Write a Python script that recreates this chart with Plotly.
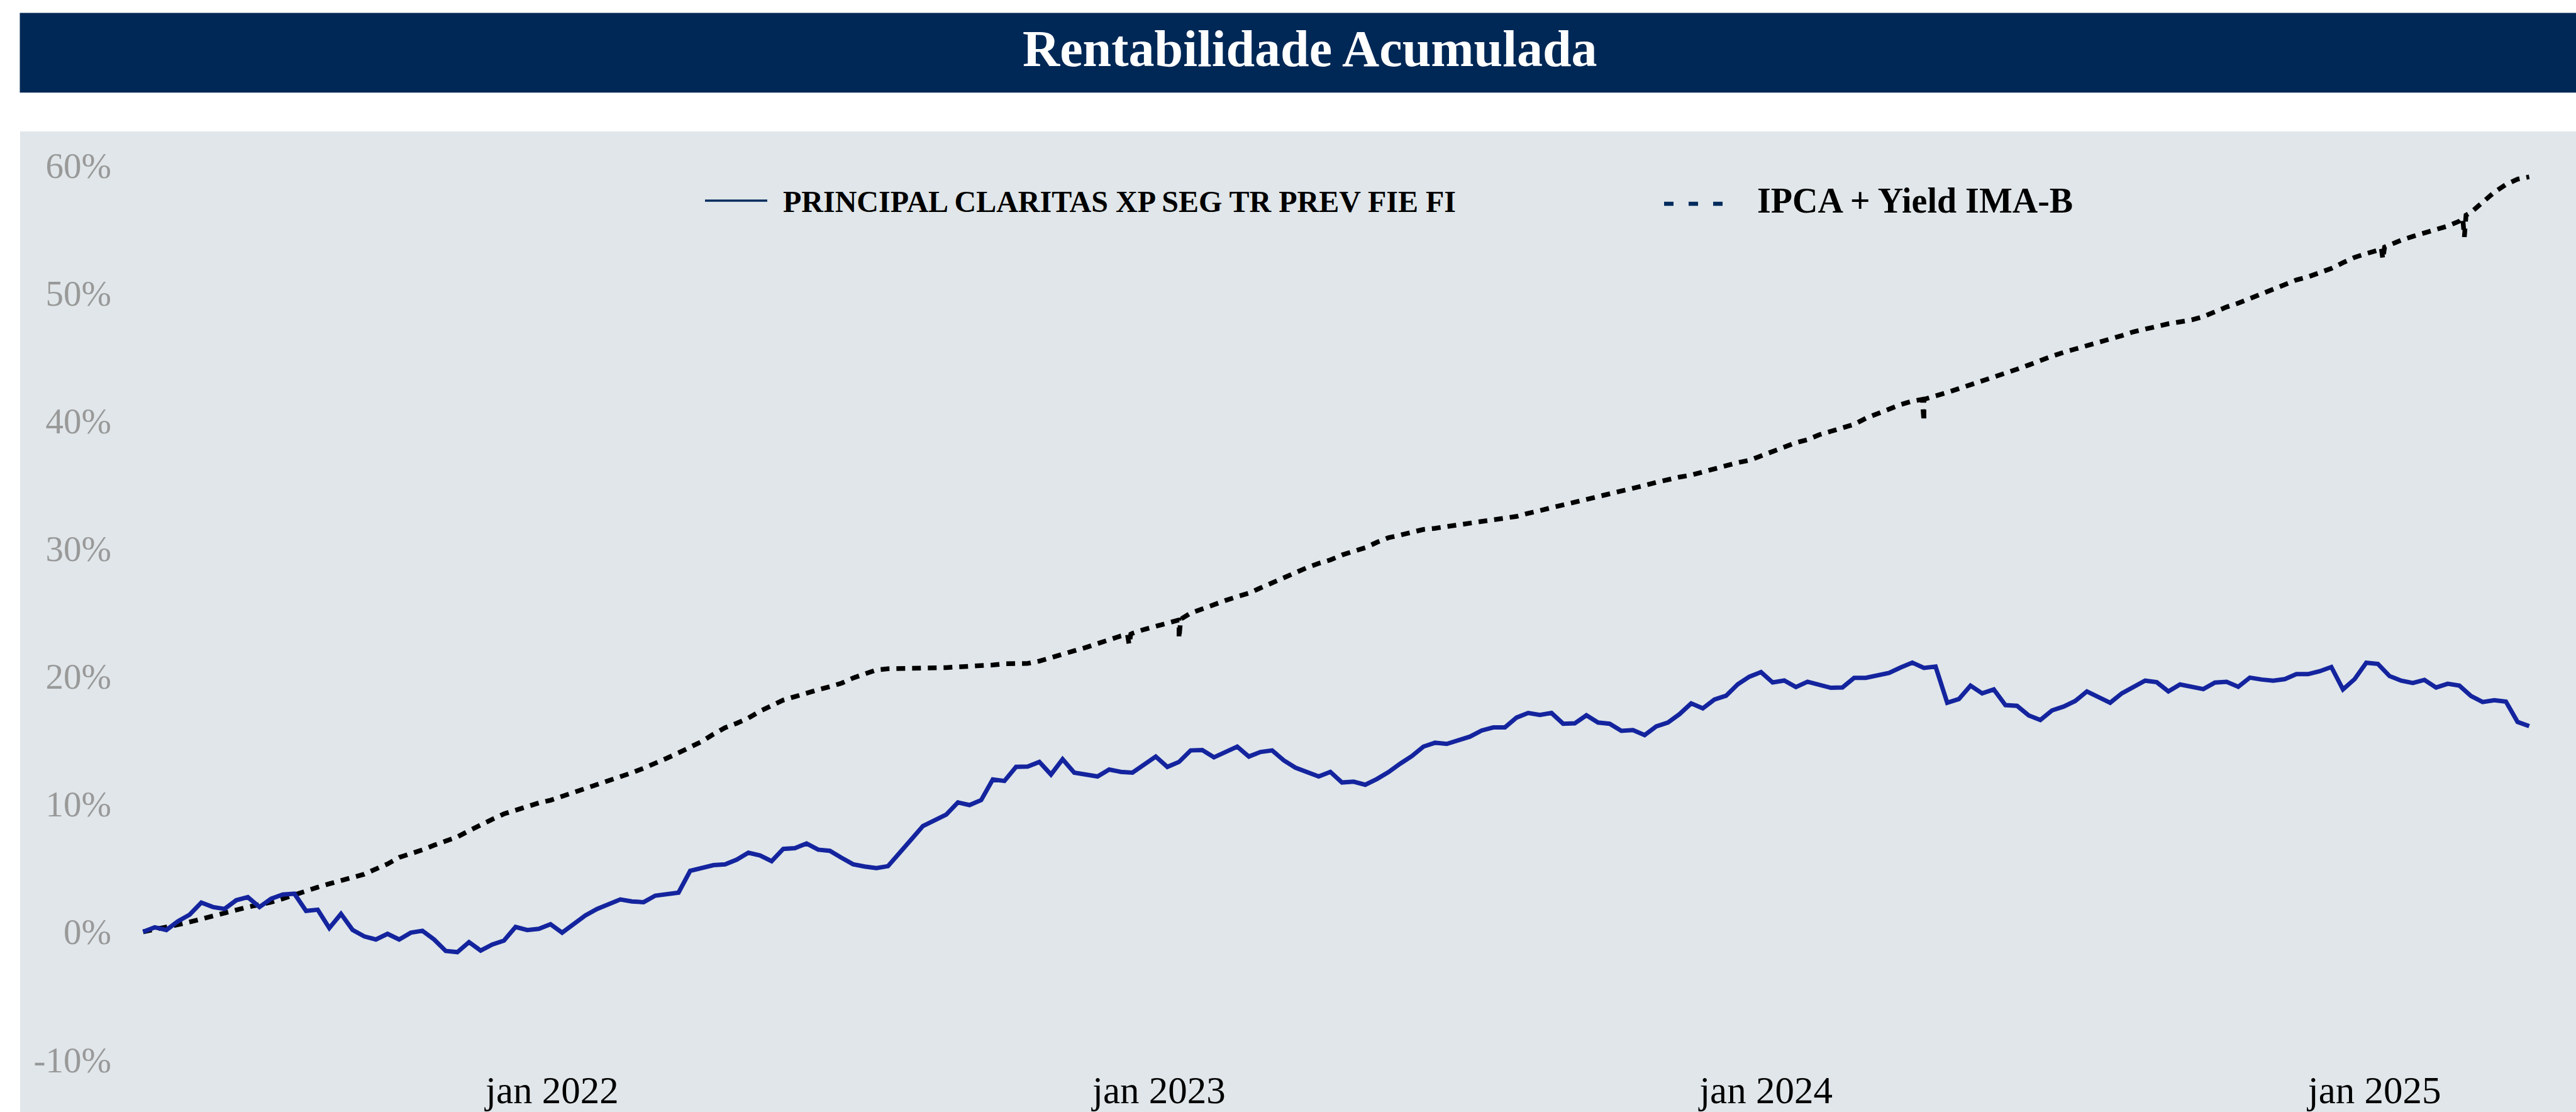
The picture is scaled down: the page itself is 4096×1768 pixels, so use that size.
import pandas as pd
import plotly.graph_objects as go

# ---------------- data (values in %) ----------------
start_date = "2021-04-30"   # weekly samples

fund_name = "PRINCIPAL CLARITAS XP SEG TR PREV FIE FI"
bench_name = "IPCA + Yield IMA-B"

fund_values = [
    0.0, 0.35, 0.14, 0.83, 1.34, 2.29, 1.94, 1.79, 2.47, 2.71,
    1.94, 2.59, 2.92, 2.98, 1.64, 1.73, 0.29, 1.40, 0.14, -0.36,
    -0.60, -0.16, -0.60, -0.07, 0.08, -0.60, -1.50, -1.59, -0.81, -1.47,
    -0.99, -0.69, 0.38, 0.14, 0.23, 0.59, -0.07, 0.59, 1.28, 1.79,
    2.20, 2.53, 2.38, 2.32, 2.83, 2.98, 3.07, 4.77, 4.98, 5.22,
    5.28,
    5.65, 6.19, 5.98, 5.53, 6.49, 6.55, 6.91, 6.43, 6.34, 5.80,
    5.29, 5.11, 4.99, 5.14, 6.13, 7.23, 8.28, 8.70, 9.18, 10.13,
    9.92, 10.31, 11.93, 11.81, 12.91, 12.94, 13.30, 12.31, 13.51, 12.46,
    12.31, 12.16, 12.70, 12.52, 12.46, 13.12, 13.72, 12.91, 13.30, 14.20,
    14.23, 13.66, 14.08, 14.50, 13.72, 14.08, 14.20, 13.42, 12.85, 12.55,
    12.16, 12.52,
    11.69, 11.75, 11.51, 11.96, 12.50, 13.16, 13.75, 14.50, 14.80, 14.71,
    15.04, 15.28, 15.76, 16.00, 16.00, 16.77, 17.13, 16.98, 17.13, 16.29,
    16.32, 16.95, 16.38, 16.29, 15.73, 15.79, 15.40, 16.08, 16.38, 17.04,
    17.88, 17.49, 18.18, 18.48, 19.37, 19.97, 20.33, 19.52, 19.67, 19.16,
    19.58, 19.37, 19.10, 19.13, 19.88, 19.88, 20.06, 20.27, 20.69, 21.07,
    20.66,
    20.76, 17.93, 18.22, 19.27, 18.67, 18.97, 17.75, 17.69, 16.94, 16.58,
    17.33, 17.63, 18.07, 18.82, 18.37, 17.93, 18.67, 19.18, 19.66, 19.54,
    18.82, 19.36, 19.18, 19.00, 19.51, 19.57, 19.18, 19.90, 19.75, 19.66,
    19.78, 20.17, 20.17, 20.40, 20.73, 18.97, 19.78, 21.06, 20.97, 20.02,
    19.66, 19.48, 19.72, 19.12, 19.42, 19.27, 18.46, 17.99, 18.13, 18.02,
    16.43, 16.10,
]

bench_values = [
    0.0, 0.17, 0.32, 0.56, 0.77, 0.98, 1.25, 1.49, 1.70, 1.94,
    2.11, 2.32, 2.59, 2.92, 3.19, 3.49, 3.76, 4.03, 4.24, 4.51,
    4.92, 5.31, 5.82, 6.09, 6.42, 6.78, 7.13, 7.43, 7.91, 8.39,
    8.81, 9.23, 9.53, 9.76, 10.09, 10.30, 10.60, 10.87, 11.20, 11.53,
    11.80, 12.07, 12.45, 12.81, 13.17, 13.59, 14.01, 14.43, 14.90, 15.47,
    15.98,
    16.32, 16.73, 17.27, 17.75, 18.14, 18.41, 18.71, 18.95, 19.19, 19.46,
    19.87, 20.17, 20.50, 20.59, 20.59, 20.59, 20.59, 20.62, 20.68, 20.74,
    20.77, 20.83, 20.89, 20.98, 20.95, 21.01, 21.19, 21.49, 21.73, 22.00,
    22.26, 22.59, 22.92, 23.16, 23.37, 23.67, 23.94, 24.21, 24.41, 24.95,
    25.31, 25.61, 25.94, 26.24, 26.51, 26.92, 27.34, 27.76, 28.15, 28.51,
    28.84, 29.11,
    29.50, 29.77, 30.07, 30.49, 30.85, 31.05, 31.26, 31.50, 31.59, 31.71,
    31.86, 31.98, 32.10, 32.25, 32.40, 32.52, 32.76, 32.97, 33.21, 33.42,
    33.62, 33.86, 34.10, 34.31, 34.52, 34.73, 34.94, 35.18, 35.42, 35.60,
    35.75, 36.01, 36.28, 36.55, 36.73, 36.91, 37.27, 37.60, 37.99, 38.29,
    38.53, 38.91, 39.18, 39.42, 39.72, 40.20, 40.59, 40.94, 41.27, 41.54,
    41.69,
    41.92, 42.22, 42.52, 42.81, 43.11, 43.44, 43.71, 44.04, 44.37, 44.76,
    45.06, 45.36, 45.62, 45.83, 46.07, 46.37, 46.67, 46.97, 47.21, 47.39,
    47.60, 47.75, 47.90, 48.16, 48.55, 48.91, 49.21, 49.57, 49.99, 50.26,
    50.67, 51.03, 51.27, 51.57, 51.93, 52.38, 52.80, 53.09, 53.36, 53.78,
    54.14, 54.44, 54.71, 55.01, 55.25, 55.63, 56.32, 57.07, 57.90, 58.50,
    58.92, 59.10,
]

# one-day dips of the benchmark line
bench_spike_dates = [
    "2022-12-13", "2022-12-14", "2022-12-15",
    "2023-01-12", "2023-01-13", "2023-01-14",
    "2024-04-04", "2024-04-05", "2024-04-06",
    "2025-01-05", "2025-01-06", "2025-01-07",
    "2025-02-23", "2025-02-24", "2025-02-25",
]
bench_spike_values = [
    23.28, 22.47, 23.30,
    24.43, 22.95, 24.47,
    41.68, 39.93, 41.72,
    53.55, 52.65, 53.60,
    55.90, 54.40, 56.10,
]

y_tick_vals = [-10, 0, 10, 20, 30, 40, 50, 60]
y_tick_text = ["-10%", "0%", "10%", "20%", "30%", "40%", "50%", "60%"]
x_tick_vals = ["2022-01-01", "2023-01-01", "2024-01-01", "2025-01-01"]
x_tick_text = ["jan 2022", "jan 2023", "jan 2024", "jan 2025"]

title_text = "Rentabilidade Acumulada"

# ---------------- build ----------------
dates = pd.date_range(start_date, periods=len(fund_values), freq="7D")
bench = pd.DataFrame({
    "d": list(dates) + list(pd.to_datetime(bench_spike_dates)),
    "v": bench_values + bench_spike_values,
}).sort_values("d")

W, H = 4096, 1768
L, R, T, B = 200, 30, 160, 68
PW, PH = W - L - R, H - T - B


def fx(p):
    return (p - L) / PW


def fy(p):
    return 1 - (p - T) / PH


FONT = "Liberation Serif"
NAVY = "#002856"

fig = go.Figure()
fig.add_trace(go.Scatter(
    x=bench["d"], y=bench["v"], mode="lines", name=bench_name,
    line=dict(color="#000000", width=7.5, dash="14px,11px"),
    showlegend=False,
))
fig.add_trace(go.Scatter(
    x=dates, y=fund_values, mode="lines", name=fund_name,
    line=dict(color="#14249E", width=7),
    showlegend=False,
))

shapes = [
    dict(type="rect", xref="paper", yref="paper", layer="below",
         x0=fx(32), x1=fx(W + 10), y0=fy(209), y1=fy(H + 10),
         fillcolor="#E0E6E9", line_width=0),
    dict(type="rect", xref="paper", yref="paper", layer="below",
         x0=fx(31.5), x1=fx(W + 10), y0=fy(20.4), y1=fy(147.2),
         fillcolor=NAVY, line_width=0),
    dict(type="line", xref="paper", yref="paper",
         x0=fx(1121), x1=fx(1220), y0=fy(319), y1=fy(319),
         line=dict(color="#002B5C", width=3.5)),
    dict(type="line", xref="paper", yref="paper",
         x0=fx(2646), x1=fx(2741), y0=fy(324), y1=fy(324),
         line=dict(color="#002B5C", width=6.5, dash="15px,24px")),
]

annotations = [
    dict(text="<b>" + title_text + "</b>", xref="paper", yref="paper",
         x=fx(2083), y=fy(78), xanchor="center", yanchor="middle",
         showarrow=False, font=dict(family=FONT, size=82, color="white")),
    dict(text="<b>" + fund_name + "</b>", xref="paper", yref="paper",
         x=fx(1243), y=fy(321), xanchor="left", yanchor="middle",
         showarrow=False, font=dict(family=FONT, size=48, color="black")),
    dict(text="<b>" + bench_name + "</b>", xref="paper", yref="paper",
         x=fx(2792), y=fy(319), xanchor="left", yanchor="middle",
         showarrow=False, font=dict(family=FONT, size=56, color="black")),
]

y0_px, px_per_pct = 1481.5, 20.31
fig.update_layout(
    width=W, height=H,
    margin=dict(l=L, r=R, t=T, b=B, pad=0, autoexpand=False),
    paper_bgcolor="white",
    plot_bgcolor="rgba(0,0,0,0)",
    font=dict(family=FONT),
    shapes=shapes,
    annotations=annotations,
    showlegend=False,
    xaxis=dict(
        type="date",
        range=["2021-04-19 14:00", "2025-04-20 19:00"],
        tickvals=x_tick_vals, ticktext=x_tick_text,
        tickfont=dict(family=FONT, size=61, color="black"),
        showgrid=False, zeroline=False, showline=False, ticks="",
        ticklabelstandoff=-8, automargin=False,
    ),
    yaxis=dict(
        range=[(y0_px - (H - B)) / px_per_pct, (y0_px - T) / px_per_pct],
        tickvals=y_tick_vals, ticktext=y_tick_text,
        tickfont=dict(family=FONT, size=57, color="#999999"),
        showgrid=False, zeroline=False, showline=False, ticks="",
        ticklabelstandoff=22, automargin=False,
    ),
)

fig.write_html("out.html")
